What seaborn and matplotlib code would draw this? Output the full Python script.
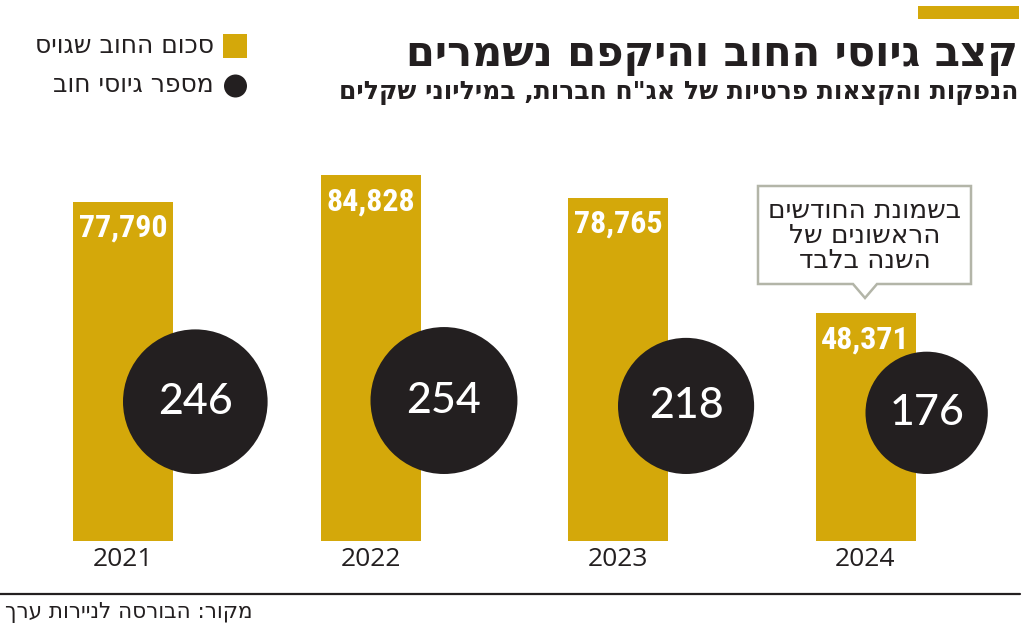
import numpy as np
import pandas as pd
import seaborn as sns
import matplotlib
matplotlib.use("Agg")
import matplotlib.pyplot as plt
from matplotlib.patches import Rectangle, Circle, Polygon
from matplotlib.lines import Line2D
from matplotlib import font_manager as fm

# ---------------- data ----------------
years = ["2021", "2022", "2023", "2024"]
debt_amount = [77790, 84828, 78765, 48371]      # millions of NIS
deal_count = [246, 254, 218, 176]               # number of raises
title = "קצב גיוסי החוב והיקפם נשמרים"
subtitle = 'הנפקות והקצאות פרטיות של אג"ח חברות, במיליוני שקלים'
legend_labels = ["סכום החוב שגויס", "מספר גיוסי חוב"]
note_lines = ["בשמונת החודשים", "הראשונים של", "השנה בלבד"]
source = "מקור: הבורסה לניירות ערך"

GOLD = "#D4A80A"
DARK = "#231F20"
BORDER = "#B3B5A8"


def rtl(s):
    return s[::-1]


sns.set_theme(style="white")
plt.rcParams["font.family"] = ["DejaVu Sans"]

names = {f.name for f in fm.fontManager.ttflist}


def pick(*cands):
    for c in cands:
        if c in names:
            return c
    return "DejaVu Sans"


narrow_font = pick("Liberation Sans Narrow", "Roboto Condensed", "Open Sans Condensed")
num_font = pick("Lato", "Liberation Sans")
year_font = pick("Open Sans", "Liberation Sans")

W, H = 1024, 631
fig = plt.figure(figsize=(W / 100, H / 100), dpi=100)
inch = fig.dpi_scale_trans


def P(x, y):
    return (x / 100, (H - y) / 100)


# ---------------- main axes ----------------
PX_PER_K = 3.785          # pixels per 1,000 (vertical scale of the bars)
AXIS_FLOOR = -11860       # value scale starts below the visible baseline
ax = fig.add_axes([0, (H - 541) / H, 1, 421 / H])
df = pd.DataFrame({"year": years, "amount": debt_amount, "deals": deal_count})
sns.barplot(data=df, x="year", y="amount", color=GOLD, saturation=1,
            width=100 / 247.5, linewidth=0, ax=ax, zorder=1)
for p in ax.patches:
    h = p.get_height()
    p.set_y(AXIS_FLOOR)
    p.set_height(h - AXIS_FLOOR)
ax.set_xlim(-123 / 247.5, (W - 123) / 247.5)
ax.set_ylim(AXIS_FLOOR, AXIS_FLOOR + 421 / PX_PER_K * 1000)
sns.despine(ax=ax, left=True, bottom=True)
ax.set_yticks([])
ax.set_xlabel("")
ax.set_ylabel("")
ax.grid(False)
ax.set_xticks(range(len(years)))
ax.set_xticklabels(years)
ax.tick_params(axis="x", length=0, pad=4, labelsize=19, labelcolor=DARK)
for t in ax.get_xticklabels():
    t.set_fontfamily(year_font)

# bar value labels
for i, v in enumerate(debt_amount):
    if narrow_font != "DejaVu Sans":
        kw = dict(fontfamily=narrow_font, fontsize=23)
    else:
        kw = dict(fontfamily="DejaVu Sans", fontsize=16)
    ax.annotate(f"{v:,}", xy=(i, v), xytext=(0, -11), textcoords="offset pixels",
                ha="center", va="top", color="white", fontweight="bold", **kw)

# circles: area proportional to number of deals
K = 44.07  # pt^2 per deal
fig.canvas.draw()
px_per_x = ax.transData.transform([[1, 0]])[0][0] - ax.transData.transform([[0, 0]])[0][0]
y_per_px = 1000 / PX_PER_K
r_px = [np.sqrt(K * v) / 2 * 100 / 72 for v in deal_count]
cx = [i + r / px_per_x for i, r in enumerate(r_px)]
cy = [AXIS_FLOOR + (67 + r) * y_per_px for r in r_px]
sns.scatterplot(x=cx, y=cy, size=deal_count, sizes=(K * min(deal_count), K * max(deal_count)),
                size_norm=(min(deal_count), max(deal_count)), color=DARK, linewidth=0,
                legend=False, ax=ax, zorder=3, alpha=1)
for x, y, v in zip(cx, cy, deal_count):
    ax.text(x, y, str(v), ha="center", va="center", color="white",
            fontsize=31, fontfamily=num_font, fontweight="medium", zorder=4)

# ---------------- decorations ----------------
fig.add_artist(Rectangle(P(918, 19), 101 / 100, 13 / 100, transform=inch,
                         facecolor=GOLD, edgecolor="none"))
fig.text(*P(1018, 66), rtl(title), transform=inch, ha="right", va="baseline",
         fontsize=30, fontweight="bold", color=DARK)
fig.text(*P(1018, 99), rtl(subtitle), transform=inch, ha="right", va="baseline",
         fontsize=18, fontweight="bold", color=DARK)

# legend
fig.add_artist(Rectangle(P(223, 58), 24 / 100, 24 / 100, transform=inch,
                         facecolor=GOLD, edgecolor="none"))
fig.add_artist(Circle(P(235.5, 86), 11.5 / 100, transform=inch,
                      facecolor=DARK, edgecolor="none"))
fig.text(*P(214, 46), rtl(legend_labels[0]), transform=inch, ha="right", va="center",
         fontsize=18, color=DARK)
fig.text(*P(214, 85), rtl(legend_labels[1]), transform=inch, ha="right", va="center",
         fontsize=18, color=DARK)

# callout
pts = [(758, 186), (971, 186), (971, 284), (877, 284), (865, 298), (853, 284), (758, 284)]
fig.add_artist(Polygon([P(x, y) for x, y in pts], closed=True, transform=inch,
                       facecolor="white", edgecolor=BORDER, linewidth=1.8))
fig.text(*P(865, 236), "\n".join(rtl(l) for l in note_lines), transform=inch,
         ha="center", va="center", fontsize=19, color=DARK, linespacing=0.95)

# bottom rule and source
fig.add_artist(Line2D([0, 1020 / 100], [(H - 594) / 100] * 2, transform=inch,
                      color=DARK, linewidth=1.6))
fig.text(*P(5, 618), rtl(source), transform=inch, ha="left", va="baseline",
         fontsize=15.5, color=DARK)

fig.savefig("out.png", dpi=100, facecolor="white")
